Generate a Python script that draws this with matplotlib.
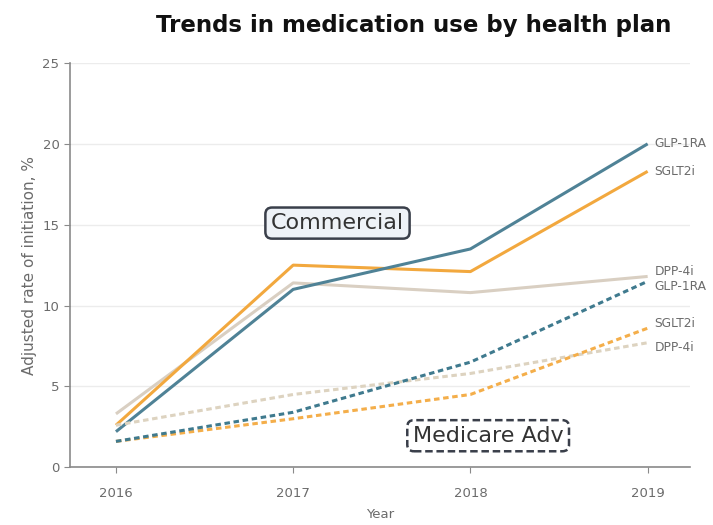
import matplotlib
matplotlib.use("Agg")
import matplotlib.pyplot as plt

# Datos de tasas ajustadas de inicio (%) por año
anios = [2016, 2017, 2018, 2019]
farmacos = ["GLP-1RA", "SGLT2i", "DPP-4i"]

comercial_glp1 = [2.2, 11.0, 13.5, 20.0]
comercial_sglt2 = [2.6, 12.5, 12.1, 18.3]
comercial_dpp4 = [3.3, 11.4, 10.8, 11.8]

medicare_glp1 = [1.6, 3.4, 6.5, 11.5]
medicare_sglt2 = [1.6, 3.0, 4.5, 8.6]
medicare_dpp4 = [2.6, 4.5, 5.8, 7.7]

colores = {"GLP-1RA": "#4f8296", "SGLT2i": "#f2a83e", "DPP-4i": "#d9cfc2"}
colores_medicare = {"GLP-1RA": "#3f7a8e", "SGLT2i": "#f4ae4a", "DPP-4i": "#ddd3c0"}

gris_texto = "#6b6b6b"


def main() -> None:
    fig = plt.figure(figsize=(7.13, 5.25), dpi=100)
    ax = fig.add_axes([0.098, 0.110, 0.870, 0.770])

    comerciales = [comercial_glp1, comercial_sglt2, comercial_dpp4]
    medicare = [medicare_glp1, medicare_sglt2, medicare_dpp4]

    # Orden de dibujo: los grises debajo
    for nombre, serie in reversed(list(zip(farmacos, comerciales))):
        ax.plot(anios, serie, color=colores[nombre], lw=2.2, solid_capstyle="butt", zorder=3)
    for nombre, serie in reversed(list(zip(farmacos, medicare))):
        ax.plot(anios, serie, color=colores_medicare[nombre], lw=2.2,
                dashes=(1.8, 1.2), zorder=3)

    # Etiquetas a la derecha de cada serie
    desplaz_com = {"GLP-1RA": 0.0, "SGLT2i": 0.0, "DPP-4i": 0.3}
    desplaz_med = {"GLP-1RA": -0.3, "SGLT2i": 0.3, "DPP-4i": -0.3}
    for nombre, serie in zip(farmacos, comerciales):
        ax.text(anios[-1] + 0.04, serie[-1] + desplaz_com[nombre], nombre,
                ha="left", va="center", fontsize=8.8, color=gris_texto)
    for nombre, serie in zip(farmacos, medicare):
        ax.text(anios[-1] + 0.04, serie[-1] + desplaz_med[nombre], nombre,
                ha="left", va="center", fontsize=8.8, color=gris_texto)

    # Recuadros de plan de salud
    ax.text(2017.25, 15.1, "Commercial", ha="center", va="center", fontsize=16,
            color="#333333",
            bbox=dict(boxstyle="round,pad=0.25,rounding_size=0.3", fc="#eef2f7",
                      ec="#3a3f4a", lw=1.8))
    ax.text(2018.1, 1.95, "Medicare Adv", ha="center", va="center", fontsize=16,
            color="#333333",
            bbox=dict(boxstyle="round,pad=0.25,rounding_size=0.3", fc="white",
                      ec="#3a3f4a", lw=1.8, ls=(0, (3, 1.5))))

    ax.set_xlim(2015.74, 2019.24)
    ax.set_ylim(0, 25)
    ax.set_xticks(anios)
    ax.set_yticks([0, 5, 10, 15, 20, 25])
    ax.yaxis.grid(True, color="#ececec", lw=1.0)
    ax.set_axisbelow(True)

    for lado in ("top", "right"):
        ax.spines[lado].set_visible(False)
    for lado in ("left", "bottom"):
        ax.spines[lado].set_color("#8a8a8a")
        ax.spines[lado].set_linewidth(1.2)

    ax.tick_params(colors="#8a8a8a", labelcolor=gris_texto, length=4, labelsize=9.5)
    ax.tick_params(axis="x", pad=10)

    ax.set_xlabel("Year", fontsize=9.5, color=gris_texto, labelpad=6)
    ax.set_ylabel("Adjusted rate of initiation, %", fontsize=11, color=gris_texto,
                  labelpad=4)

    fig.text(0.58, 0.952, "Trends in medication use by health plan", ha="center",
             va="center", fontsize=16.5, fontweight="bold", color="#111111")

    fig.savefig("out.png", dpi=100)
    plt.close(fig)


if __name__ == "__main__":
    main()
